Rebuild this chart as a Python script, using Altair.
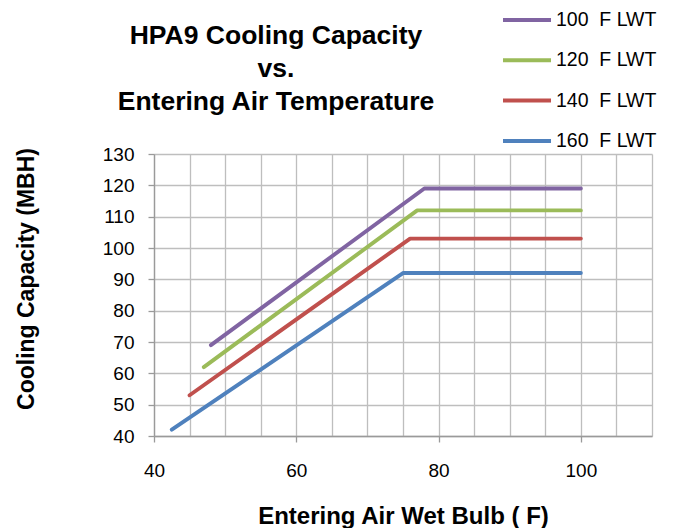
import altair as alt
import pandas as pd

FONT = "Liberation Sans, Arial, Helvetica, sans-serif"

series = ["100\u00a0 F LWT", "120\u00a0 F LWT", "140\u00a0 F LWT", "160\u00a0 F LWT"]
colors = ["#8064A2", "#9BBB59", "#C0504D", "#4F81BD"]

wet_bulb = {
    series[0]: [48, 78, 100],
    series[1]: [47, 77, 100],
    series[2]: [45, 76, 100],
    series[3]: [42.5, 75, 100],
}
capacity = {
    series[0]: [69, 119, 119],
    series[1]: [62, 112, 112],
    series[2]: [53, 103, 103],
    series[3]: [42, 92, 92],
}

x_values = list(range(40, 115, 5))
y_values = list(range(40, 140, 10))

rows = []
for s in series:
    for i, (xv, yv) in enumerate(zip(wet_bulb[s], capacity[s])):
        rows.append({"series": s, "x": xv, "y": yv, "order": i})
df = pd.DataFrame(rows)

chart = alt.Chart(df).mark_line(strokeWidth=3.9, strokeCap="round", strokeJoin="round").encode(
    x=alt.X("x:Q",
            scale=alt.Scale(domain=[40, 110], nice=False, zero=False),
            axis=alt.Axis(
                values=x_values,
                title="Entering Air Wet Bulb ( F)",
                labelExpr="datum.value % 20 === 0 ? datum.label : ''",
                tickOpacity={"condition": {"test": "datum.value % 20 === 0", "value": 1}, "value": 0},
                tickSize=6,
                labelPadding=19,
                labelOverlap=False,
                labelFlush=False,
                titleFontSize=24,
                titleY=87,
                titleBaseline="alphabetic",
            )),
    y=alt.Y("y:Q",
            scale=alt.Scale(domain=[40, 130], nice=False, zero=False),
            axis=alt.Axis(
                values=y_values,
                title="Cooling Capacity (MBH)",
                tickSize=6,
                labelPadding=14,
                labelFlush=False,
                titleFontSize=23,
                titleX=-121,
                titleY=124.5,
                titleBaseline="alphabetic",
                titleAngle=270,
            )),
    color=alt.Color("series:N",
                    scale=alt.Scale(domain=series, range=colors),
                    legend=alt.Legend(
                        title=None,
                        orient="none",
                        legendX=359,
                        legendY=-148,
                        symbolType="M-2,0H2",
                        symbolSize=576,
                        symbolStrokeWidth=4,
                        labelOffset=15,
                        rowPadding=16.3,
                        labelFontSize=19.5,
                        labelFont=FONT,
                        labelColor="#000000",
                        padding=0,
                    )),
    order="order:Q",
).properties(
    width=498,
    height=282,
    autosize="none",
    padding={"left": 146, "top": 146, "right": 17, "bottom": 92},
    title=alt.TitleParams(
        text=["HPA9 Cooling Capacity", "vs.", "Entering Air Temperature"],
        fontSize=26.5,
        font=FONT,
        fontWeight="bold",
        color="#000000",
        lineHeight=33,
        anchor="middle",
        frame="group",
        dx=-127,
        dy=145,
        offset=36,
    ),
).configure_axis(
    labelFont=FONT,
    titleFont=FONT,
    labelFontSize=19,
    labelColor="#000000",
    titleColor="#000000",
    titleFontWeight="bold",
    gridColor="#BEBEBE",
    gridWidth=1.3,
    gridOpacity=1,
    domainColor="#9A9A9A",
    domainWidth=1.3,
    tickColor="#9A9A9A",
    tickWidth=1.3,
).configure_view(strokeWidth=0)

chart.save("out.html", embed_options={"renderer": "svg", "actions": False})
